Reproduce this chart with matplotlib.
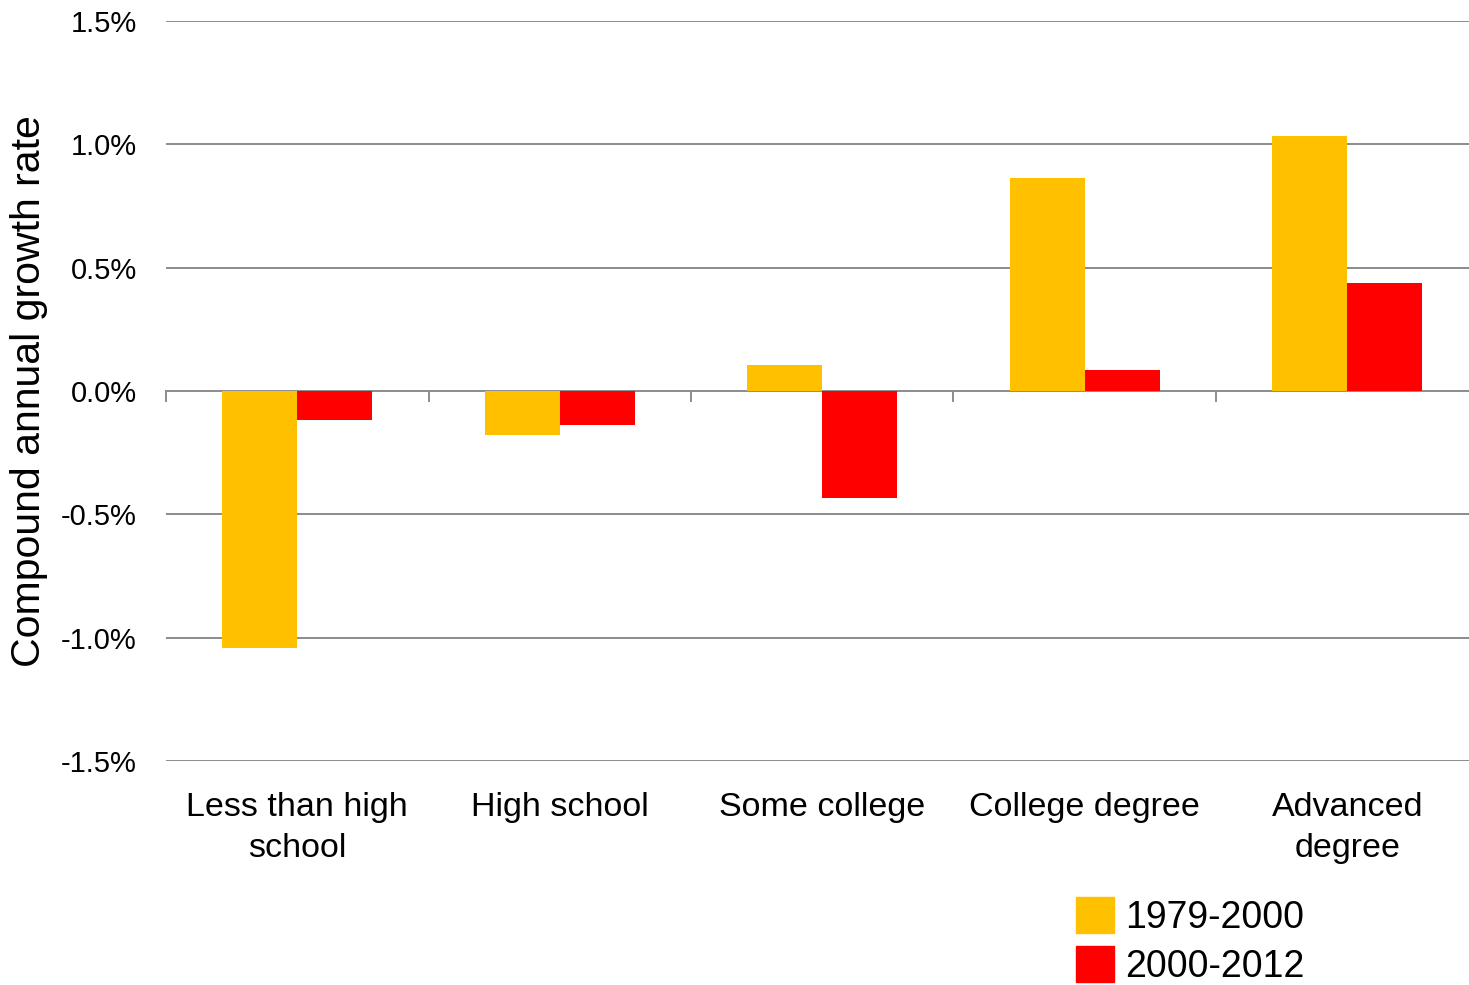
import matplotlib
matplotlib.use("Agg")
import matplotlib.pyplot as plt
import numpy as np
from matplotlib.patches import Patch

categories = ["Less than high\nschool", "High school", "Some college", "College degree", "Advanced\ndegree"]
series_names = ["1979-2000", "2000-2012"]
values_1979_2000 = [-1.04, -0.18, 0.105, 0.863, 1.034]
values_2000_2012 = [-0.118, -0.137, -0.434, 0.085, 0.438]
yticks = [-1.5, -1.0, -0.5, 0.0, 0.5, 1.0, 1.5]
colors = ["#FFC000", "#FF0000"]

plt.rcParams['font.family'] = ['Liberation Sans', 'DejaVu Sans']

W, H = 1469, 985
fig = plt.figure(figsize=(W/100, H/100), dpi=100)
ax = fig.add_axes([166/W, 1-761/H, 1312.5/W, (761-21)/H])

x = np.arange(len(categories))
w = 0.286
ax.bar(x - w/2, values_1979_2000, width=w, color=colors[0], zorder=3)
ax.bar(x + w/2, values_2000_2012, width=w, color=colors[1], zorder=3)

ax.set_xlim(-0.5, len(categories) - 0.5)
ax.set_ylim(-1.5, 1.5)
ax.set_yticks(yticks)
ax.set_yticklabels([f"{v:.1f}%" for v in yticks], fontsize=21)
for t in yticks:
    ax.axhline(t, color="#8c8c8c", lw=1.4, zorder=1)

for s in ["top", "right", "left", "bottom"]:
    ax.spines[s].set_visible(False)
ax.tick_params(axis="y", length=0, pad=21)

ax.set_xticks(x)
ax.set_xticklabels(categories, fontsize=24.5, linespacing=1.42)
ax.tick_params(axis="x", length=0, pad=22)
for b in np.arange(-0.5, len(categories) - 0.5, 1.0):
    ax.plot([b, b], [0, -0.042], color="#8c8c8c", lw=1.4, zorder=2, clip_on=False)

ax.set_ylabel("Compound annual growth rate", fontsize=29.5)
ax.yaxis.set_label_coords(-(166 - 48) / 1312.5, (761 - 391) / 740)

handles = [Patch(color=colors[0], label=series_names[0]), Patch(color=colors[1], label=series_names[1])]
fig.legend(handles=handles, loc="lower left", bbox_to_anchor=(1076/W, 0.0), frameon=False,
           borderpad=0, borderaxespad=0,
           fontsize=27, handlelength=1.0, handleheight=1.1, handletextpad=0.32, labelspacing=0.28)

fig.savefig("out.png", dpi=100)
